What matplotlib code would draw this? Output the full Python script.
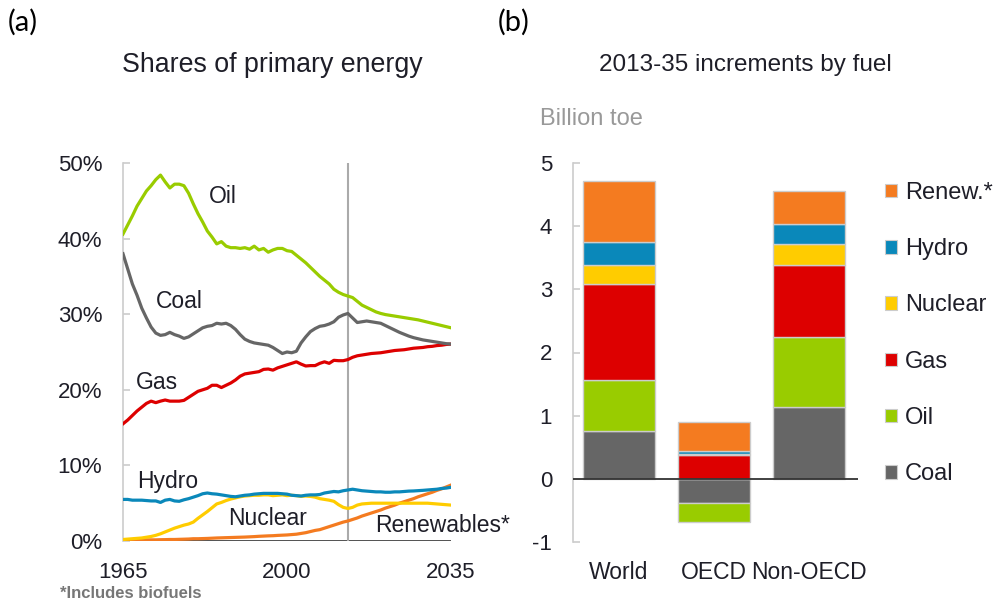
import numpy as np
import matplotlib
matplotlib.use('Agg')
import matplotlib.pyplot as plt
from matplotlib.patches import Patch

plt.rcParams['font.family'] = ['Liberation Sans', 'DejaVu Sans']
plt.rcParams['axes.unicode_minus'] = False

# Данные: доли первичной энергии, % (1965-2035)
years = list(range(1965, 2036))
oil = [40.6, 41.8, 43.0, 44.3, 45.3, 46.3, 47.0, 47.8, 48.4, 47.5,
       46.7, 47.2, 47.2, 47.0, 46.0, 44.6, 43.3, 42.2, 41.0, 40.2,
       39.3, 39.6, 39.0, 38.8, 38.8, 38.7, 38.8, 38.6, 39.0, 38.5,
       38.7, 38.2, 38.5, 38.7, 38.7, 38.4, 38.3, 37.8, 37.3, 36.8,
       36.2, 35.6, 35.0, 34.5, 34.0, 33.3, 32.9, 32.6, 32.4, 32.2,
       31.7, 31.2, 30.9, 30.6, 30.3, 30.1, 29.95, 29.85, 29.75, 29.65,
       29.55, 29.45, 29.35, 29.25, 29.1, 28.95, 28.8, 28.65, 28.5, 28.35,
       28.2]
coal = [38.0, 36.0, 34.0, 32.5, 30.8, 29.5, 28.3, 27.5, 27.2, 27.3,
        27.6, 27.3, 27.1, 26.8, 27.0, 27.4, 27.8, 28.2, 28.4, 28.5,
        28.8, 28.7, 28.8, 28.5, 28.0, 27.3, 26.7, 26.4, 26.2, 26.1,
        26.0, 25.9, 25.6, 25.2, 24.8, 25.0, 24.9, 25.1, 26.2, 27.0,
        27.7, 28.1, 28.4, 28.5, 28.7, 29.0, 29.6, 29.9, 30.1, 29.5,
        28.9, 29.0, 29.1, 29.0, 28.9, 28.8, 28.5, 28.2, 27.9, 27.6,
        27.35, 27.1, 26.9, 26.75, 26.6, 26.5, 26.4, 26.3, 26.2, 26.1,
        26.05]
gas = [15.5, 16.0, 16.6, 17.2, 17.7, 18.2, 18.5, 18.3, 18.5, 18.65,
       18.5, 18.5, 18.5, 18.6, 19.0, 19.4, 19.8, 20.0, 20.2, 20.6,
       20.6, 20.3, 20.6, 20.9, 21.3, 21.8, 22.1, 22.2, 22.3, 22.4,
       22.7, 22.75, 22.6, 22.9, 23.1, 23.3, 23.5, 23.7, 23.4, 23.15,
       23.2, 23.2, 23.5, 23.7, 23.5, 23.9, 23.85, 23.85, 24.0, 24.3,
       24.5, 24.6, 24.7, 24.8, 24.85, 24.9, 25.0, 25.1, 25.2, 25.25,
       25.3, 25.4, 25.5, 25.55, 25.6, 25.7, 25.75, 25.85, 25.9, 26.0,
       26.05]
hydro = [5.5, 5.5, 5.4, 5.4, 5.4, 5.35, 5.3, 5.3, 5.1, 5.4,
         5.5, 5.3, 5.25, 5.45, 5.6, 5.8, 6.0, 6.25, 6.35, 6.25,
         6.2, 6.1, 6.0, 5.9, 5.85, 5.95, 6.05, 6.1, 6.2, 6.25,
         6.3, 6.3, 6.3, 6.3, 6.25, 6.2, 6.05, 6.0, 5.95, 6.05,
         6.1, 6.1, 6.15, 6.35, 6.45, 6.55, 6.5, 6.65, 6.75, 6.85,
         6.75, 6.65, 6.6, 6.55, 6.5, 6.5, 6.45, 6.45, 6.5, 6.5,
         6.55, 6.6, 6.62, 6.66, 6.7, 6.75, 6.8, 6.85, 6.95, 7.0,
         7.1]
nuclear = [0.2, 0.25, 0.3, 0.35, 0.4, 0.5, 0.6, 0.75, 0.95, 1.2,
           1.45, 1.7, 1.9, 2.1, 2.25, 2.5, 3.0, 3.45, 3.9, 4.4,
           4.9, 5.1, 5.35, 5.55, 5.7, 5.85, 5.95, 6.0, 6.05, 6.05,
           6.1, 6.1, 6.0, 6.05, 6.1, 6.0, 6.05, 6.0, 5.9, 5.95,
           5.9, 5.8, 5.6, 5.5, 5.4, 5.25, 4.8, 4.45, 4.3, 4.45,
           4.75, 4.9, 4.95, 5.0, 5.0, 5.0, 5.0, 5.0, 5.0, 5.0,
           5.0, 5.0, 5.0, 5.0, 5.0, 5.0, 4.95, 4.9, 4.85, 4.8,
           4.75]
renew = [0.1, 0.1, 0.1, 0.1, 0.12, 0.15, 0.15, 0.15, 0.17, 0.18,
         0.2, 0.2, 0.22, 0.24, 0.26, 0.3, 0.3, 0.32, 0.34, 0.37,
         0.4, 0.42, 0.44, 0.46, 0.48, 0.5, 0.52, 0.55, 0.58, 0.62,
         0.65, 0.68, 0.7, 0.74, 0.77, 0.8, 0.85, 0.9, 1.0, 1.1,
         1.25, 1.4, 1.5, 1.7, 1.9, 2.1, 2.3, 2.5, 2.65, 2.85,
         3.05, 3.3, 3.5, 3.7, 3.9, 4.1, 4.35, 4.55, 4.75, 5.0,
         5.2, 5.4, 5.6, 5.85, 6.05, 6.25, 6.45, 6.7, 6.9, 7.15,
         7.4]

# Приросты 2013-35 по видам топлива, млрд т н.э.
regions = ['World', 'OECD', 'Non-OECD']
inc_coal = [0.75, -0.38, 1.13]
inc_oil = [0.82, -0.31, 1.12]
inc_gas = [1.51, 0.38, 1.14]
inc_nuclear = [0.30, 0.01, 0.32]
inc_hydro = [0.37, 0.05, 0.33]
inc_renew = [0.97, 0.46, 0.52]

c_oil = '#99cc00'
c_coal = '#666666'
c_gas = '#dd0000'
c_hydro = '#0a88ba'
c_nuclear = '#ffcc00'
c_renew = '#f47b20'
txt = '#1e1e28'

fig = plt.figure(figsize=(9.93, 6.03), dpi=100)

# --- (a) ---
ax1 = fig.add_axes([123/993, 1-541/603, 328/993, 378/603])
ax1.set_xlim(1965, 2035)
ax1.set_ylim(0, 50)
ax1.axhline(0, color='#444444', lw=1.3, zorder=1)
ax1.axvline(2013, color='#aaaaaa', lw=1.5, zorder=1)
lw = 2.3
ax1.plot(years, renew, color=c_renew, lw=lw, zorder=3)
ax1.plot(years, nuclear, color=c_nuclear, lw=lw, zorder=3)
ax1.plot(years, hydro, color=c_hydro, lw=lw, zorder=3)
ax1.plot(years, gas, color=c_gas, lw=lw, zorder=3)
ax1.plot(years, coal, color=c_coal, lw=lw, zorder=3)
ax1.plot(years, oil, color=c_oil, lw=lw, zorder=3)
fs = 16
fl = 16.5
ax1.text(1986.3, 45.6, 'Oil', fontsize=fl, color=txt, ha='center', va='center')
ax1.text(1977.1, 31.7, 'Coal', fontsize=fl, color=txt, ha='center', va='center')
ax1.text(1972.2, 20.9, 'Gas', fontsize=fl, color=txt, ha='center', va='center')
ax1.text(1974.6, 7.9, 'Hydro', fontsize=fl, color=txt, ha='center', va='center')
ax1.text(1995.8, 3.0, 'Nuclear', fontsize=fl, color=txt, ha='center', va='center')
ax1.text(2018.8, 2.1, 'Renewables*', fontsize=fl, color=txt, ha='left', va='center',
         clip_on=False)
for s in ['top', 'right', 'bottom']:
    ax1.spines[s].set_visible(False)
ax1.spines['left'].set_color('#cccccc')
ax1.spines['left'].set_linewidth(1.2)
ax1.set_yticks([0, 10, 20, 30, 40, 50])
ax1.set_yticklabels(['0%', '10%', '20%', '30%', '40%', '50%'])
ax1.set_xticks([1965, 2000, 2035])
ax1.tick_params(axis='y', direction='in', length=5, width=1.2, color='#cccccc',
                pad=15, labelsize=fs, labelcolor=txt)
ax1.tick_params(axis='x', length=0, pad=15, labelsize=fs, labelcolor=txt)
fig.text(272/993, 1-65/603, 'Shares of primary energy', fontsize=19.3, color=txt,
         ha='center', va='center')

# --- (b) ---
ax2 = fig.add_axes([573/993, 1-542/603, 285/993, 379/603])
x = np.arange(len(regions))
w = 0.758
ec = '#cccccc'
pos_base = np.zeros(3)
neg_base = np.zeros(3)
stack = [(inc_coal, c_coal, 'Coal'), (inc_oil, c_oil, 'Oil'), (inc_gas, c_gas, 'Gas'),
         (inc_nuclear, c_nuclear, 'Nuclear'), (inc_hydro, c_hydro, 'Hydro'),
         (inc_renew, c_renew, 'Renew.*')]
for vals, col, name in stack:
    vals = np.array(vals)
    base = np.where(vals >= 0, pos_base, neg_base)
    ax2.bar(x, vals, w, bottom=base, color=col, edgecolor=ec, linewidth=1.0, zorder=2)
    pos_base = pos_base + np.where(vals >= 0, vals, 0)
    neg_base = neg_base + np.where(vals < 0, vals, 0)
ax2.axhline(0, color='#333333', lw=1.3, zorder=3)
ax2.set_xlim(-0.484, 2.516)
ax2.set_ylim(-1, 5)
for s in ['top', 'right', 'bottom']:
    ax2.spines[s].set_visible(False)
ax2.spines['left'].set_color('#cccccc')
ax2.spines['left'].set_linewidth(1.2)
ax2.set_yticks([-1, 0, 1, 2, 3, 4, 5])
ax2.set_xticks(x)
ax2.set_xticklabels(regions)
ax2.tick_params(axis='y', direction='in', length=5, width=1.2, color='#cccccc',
                pad=15, labelsize=fs, labelcolor=txt)
ax2.tick_params(axis='x', length=0, pad=14, labelsize=16.5, labelcolor=txt)
fig.text(745/993, 1-65/603, '2013-35 increments by fuel', fontsize=17.5, color=txt,
         ha='center', va='center')
fig.text(540/993, 1-119/603, 'Billion toe', fontsize=17, color='#999999',
         ha='left', va='center')

handles = [Patch(facecolor=col, edgecolor='#cccccc', linewidth=0.8, label=name)
           for vals, col, name in stack[::-1]]
fig.legend(handles=handles, loc='upper left', bbox_to_anchor=(885/993, 1-182/603),
           frameon=False, fontsize=17, labelspacing=1.45, handlelength=0.5,
           handleheight=0.5, handletextpad=0.35, borderpad=0, borderaxespad=0,
           labelcolor=txt)

fig.text(8/993, 1-22/603, '(a)', fontsize=21, family='Lato', color='black',
         ha='left', va='center')
fig.text(498/993, 1-22/603, '(b)', fontsize=21, family='Lato', color='black',
         ha='left', va='center')
fig.text(60/993, 1-593/603, '*Includes biofuels', fontsize=12, color='#777777',
         ha='left', va='center', weight='bold')

fig.savefig('out.png', dpi=100)
